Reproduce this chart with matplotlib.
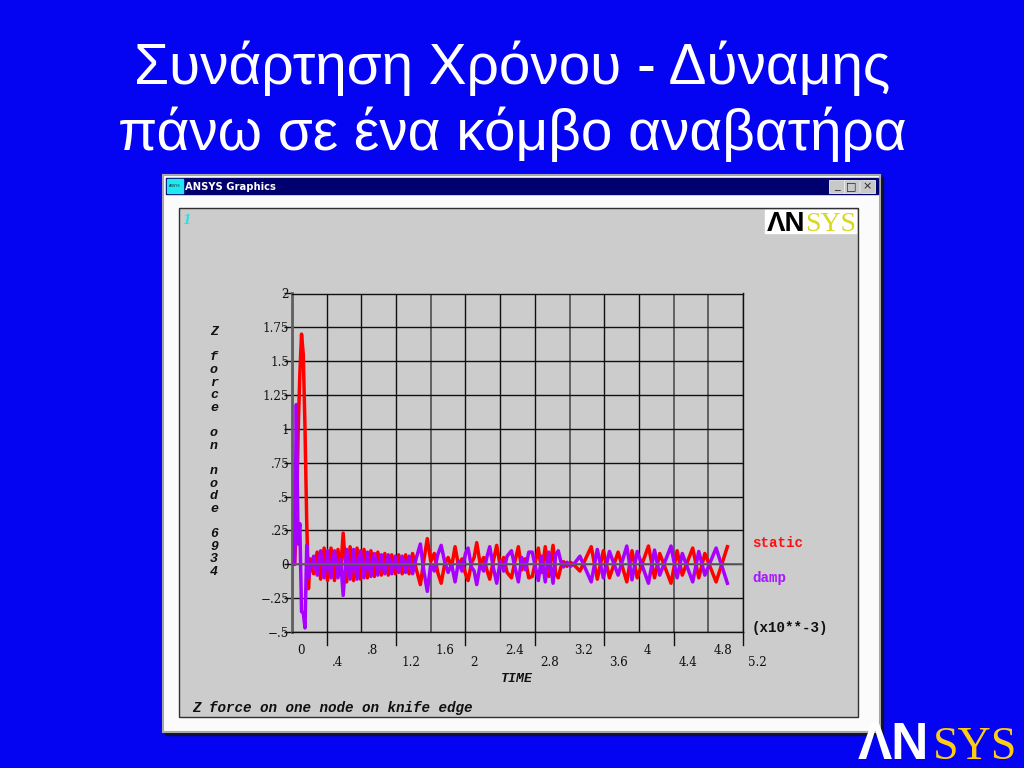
import numpy as np
import matplotlib
matplotlib.use("Agg")
import matplotlib.pyplot as plt
from matplotlib.patches import Rectangle

# time in units of 1e-3
time = [0, .03, .05, .07, .09, .11, .13, .15, .17, .19,
        .21, .25, .29, .33, .37, .41, .45, .49, .53, .56, .59, .63, .67, .71, .75, .79, .83, .87, .91, .95,
        .99, 1.03, 1.07, 1.11, 1.15, 1.19, 1.23, 1.27, 1.31, 1.35,
        1.39, 1.43, 1.48, 1.52, 1.56, 1.60, 1.64, 1.68, 1.72, 1.76, 1.80, 1.84, 1.88, 1.92, 1.96, 2.00,
        2.03, 2.07, 2.10, 2.13, 2.17, 2.21, 2.25, 2.28, 2.32, 2.36, 2.40, 2.44, 2.48, 2.53, 2.57, 2.61,
        2.65, 2.69, 2.73, 2.77, 2.81, 2.84, 2.88, 2.92, 2.96, 3.01, 3.04, 3.07, 3.10, 3.13, 3.17, 3.21,
        3.26, 3.32, 3.45, 3.52, 3.59, 3.66, 3.76, 3.86, 3.92, 3.98, 4.11, 4.18, 4.24, 4.37, 4.44, 4.50,
        4.62, 4.69, 4.76, 4.89, 5.02]
static = [0, 0, .3, .95, 1.4, 1.7, 1.55, 1.0, .3, -.18,
          .04, -.07, .09, -.11, .12, -.12, .12, -.12, .11, -.05, .23, -.13, .13, -.12, .12, -.11, .11, -.1, .1, -.09,
          .09, -.08, .08, -.08, .07, -.07, .07, -.07, .07, -.07,
          .08, -.03, -.15, .03, .19, .02, .08, -.06, -.14, 0, .05, -.02, .13, -.01, .04, -.07,
          -.12, .01, .05, .16, 0, .05, -.05, -.11, .02, .14, -.01, .05, -.06, -.1, .02, .13,
          -.04, .04, -.1, -.09, .03, .12, -.06, .13, -.09, .14, -.07, -.1, -.02, .02, -.015, .015,
          -.01, -.05, .13, -.11, .1, -.1, .09, -.13, .1, -.1, .135, -.1, .08, -.14, .1, -.08,
          .12, -.1, .08, -.13, .13]
damp = [0, 0, 1.18, .15, .3, -.35, -.36, -.47, .14, -.1,
        -.04, .06, -.08, .1, -.1, .1, -.1, .1, -.1, .04, -.23, .11, -.11, .11, -.11, .1, -.1, .09, -.09, .08,
        -.08, .07, -.07, .07, -.07, .06, -.06, .06, -.06, .06,
        -.07, .04, .15, -.05, -.2, 0, -.05, .07, .14, .02, -.06, 0, -.13, .02, -.05, .08,
        .12, -.02, -.05, -.15, 0, -.05, .06, .13, -.02, -.14, .02, -.05, .06, .1, -.02, -.13,
        .05, -.04, .09, .09, -.03, -.12, .06, -.13, .09, -.14, .07, .1, .02, -.02, .015, -.015,
        .01, .06, -.13, .11, -.1, .095, -.08, .135, -.115, .095, -.14, .105, -.08, .135, -.1, .08,
        -.13, .095, -.08, .12, -.14]

x_ticks = [0, .4, .8, 1.2, 1.6, 2, 2.4, 2.8, 3.2, 3.6, 4, 4.4, 4.8, 5.2]
x_labels = ["0", ".4", ".8", "1.2", "1.6", "2", "2.4", "2.8", "3.2", "3.6", "4", "4.4", "4.8", "5.2"]
y_ticks = [-.5, -.25, 0, .25, .5, .75, 1, 1.25, 1.5, 1.75, 2]
y_labels = ["−.5", "−.25", "0", ".25", ".5", ".75", "1", "1.25", "1.5", "1.75", "2"]
y_title = "Z force on node 6934"

mono = "Liberation Mono"
serif = "DejaVu Serif"
blue = "#0404F2"

fig = plt.figure(figsize=(10.24, 7.68), dpi=100, facecolor=blue)

# slide and window, in pixels
bg = fig.add_axes([0, 0, 1, 1])
bg.set_xlim(0, 1024)
bg.set_ylim(768, 0)
bg.axis("off")

for txt, y in [("Συνάρτηση Χρόνου - Δύναμης", 84), ("πάνω σε ένα κόμβο αναβατήρα", 150)]:
    bg.text(512, y, txt, color="white", fontsize=40.9, family="Liberation Sans", ha="center", va="baseline")

bg.add_patch(Rectangle((165, 177), 718, 558, color="#101030", zorder=1))
bg.add_patch(Rectangle((163, 175), 717, 557, facecolor="#FBFBFB", edgecolor="#A8A8A8", lw=1.5, zorder=2))
bg.add_patch(Rectangle((166, 178), 712, 16, color="#00006E", zorder=3))
bg.add_patch(Rectangle((167, 179), 16, 14, color="#22E6F0", zorder=4))
bg.text(175, 186, "ANSYS", fontsize=2.5, color="#003030", ha="center", va="center", zorder=5)
bg.text(185, 186.5, "ANSYS Graphics", color="white", fontsize=7.2, fontweight="bold",
        family="DejaVu Sans", ha="left", va="center", zorder=5)
for bx, glyph in [(829, "_"), (844, "□"), (860, "×")]:
    bg.add_patch(Rectangle((bx, 180), 15, 13, facecolor="#C8C8C8", edgecolor="#EEEEEE", lw=.6, zorder=4))
    bg.text(bx + 7.5, 186, glyph, fontsize=8, color="#202020", ha="center", va="center", zorder=5)

bg.add_patch(Rectangle((179, 208), 679, 509, facecolor="#CCCCCC", edgecolor="#303030", lw=1, zorder=3))
bg.text(187, 220, "1", color="#30E0E0", fontsize=9, style="italic", fontweight="bold", family=serif,
        ha="center", va="center", zorder=5)

# small logo in the panel
bg.add_patch(Rectangle((765, 210), 91, 23, color="white", zorder=4))
bg.text(767, 231, "ΛN", color="black", fontsize=20, fontweight="bold", family="Liberation Sans",
        ha="left", va="baseline", zorder=5)
bg.text(805, 231, "SYS", color="#D8D820", fontsize=20, family="Liberation Serif", ha="left", va="baseline", zorder=5)

# big logo in the corner
bg.text(858, 759, "ΛN", color="white", fontsize=37, fontweight="bold", family="Liberation Sans",
        ha="left", va="baseline", zorder=6)
bg.text(933, 759, "SYS", color="#FFCC14", fontsize=33, family="Liberation Serif", ha="left", va="baseline", zorder=6)

for i, ch in enumerate(y_title):
    bg.text(214, 332 + 12.63 * i, ch, fontsize=9.5, style="italic", fontweight="bold", family=mono,
            color="#101010", ha="center", va="center", zorder=5)

bg.text(192, 708, "Z force on one node on knife edge", fontsize=10.3, style="italic", fontweight="bold",
        family=mono, color="#101010", ha="left", va="center", zorder=5)
bg.text(517, 679, "TIME", fontsize=9.5, style="italic", fontweight="bold", family=mono,
        color="#101010", ha="center", va="center", zorder=5)
bg.text(752, 543, "static", fontsize=10.2, fontweight="bold", family=mono, color="#FF1010", va="center", zorder=5)
bg.text(752, 578, "damp", fontsize=10.2, fontweight="bold", family=mono, color="#A818FF", va="center", zorder=5)
bg.text(752, 628, "(x10**-3)", fontsize=10.2, fontweight="bold", family=mono, color="#101010", va="center", zorder=5)

# the chart
ax = fig.add_axes([292 / 1024, (768 - 632) / 768, 451 / 1024, 338.5 / 768])
ax.patch.set_alpha(0)
ax.set_xlim(0, 5.2)
ax.set_ylim(-.5, 2)
ax.plot(time, static, color="#FF0000", lw=2.5, zorder=3)
ax.plot(time, damp, color="#A800FF", lw=2.5, zorder=4)
ax.axhline(0, color="#606060", lw=1.2, zorder=5)

ax.set_xticks(x_ticks)
ax.set_yticks(y_ticks)
ax.set_xticklabels([])
ax.set_yticklabels(y_labels, fontsize=8.6, family=serif, color="#101010")
ax.grid(True, color="#101010", lw=1, zorder=1)
for i in [4, 8, 11, 12]:
    ax.get_xgridlines()[i].set_color("#585858")
    ax.get_xgridlines()[i].set_linewidth(1.3)
ax.tick_params(axis="y", length=5.8, width=1, pad=-3.8, color="#101010")
ax.tick_params(axis="x", length=0)
for s in ax.spines.values():
    s.set_color("#101010")
    s.set_linewidth(1)
ax.spines["left"].set_color("#606060")
ax.spines["left"].set_linewidth(2)

# tick labels sit in two rows, the lower row has a long tick
for i, (t, lab) in enumerate(zip(x_ticks, x_labels)):
    low = i % 2 == 1
    if low:
        ax.plot([t, t], [0, -13 / 338.5], transform=ax.get_xaxis_transform(), color="#101010", lw=1, clip_on=False)
    ax.annotate(lab, (t, 0), xycoords=ax.get_xaxis_transform(), xytext=(5 * .72, (-30.5 if low else -18) * .72),
                textcoords="offset points", fontsize=8.6, family=serif, color="#101010", ha="left", va="center")

fig.savefig("out.png", dpi=100, facecolor=fig.get_facecolor())
